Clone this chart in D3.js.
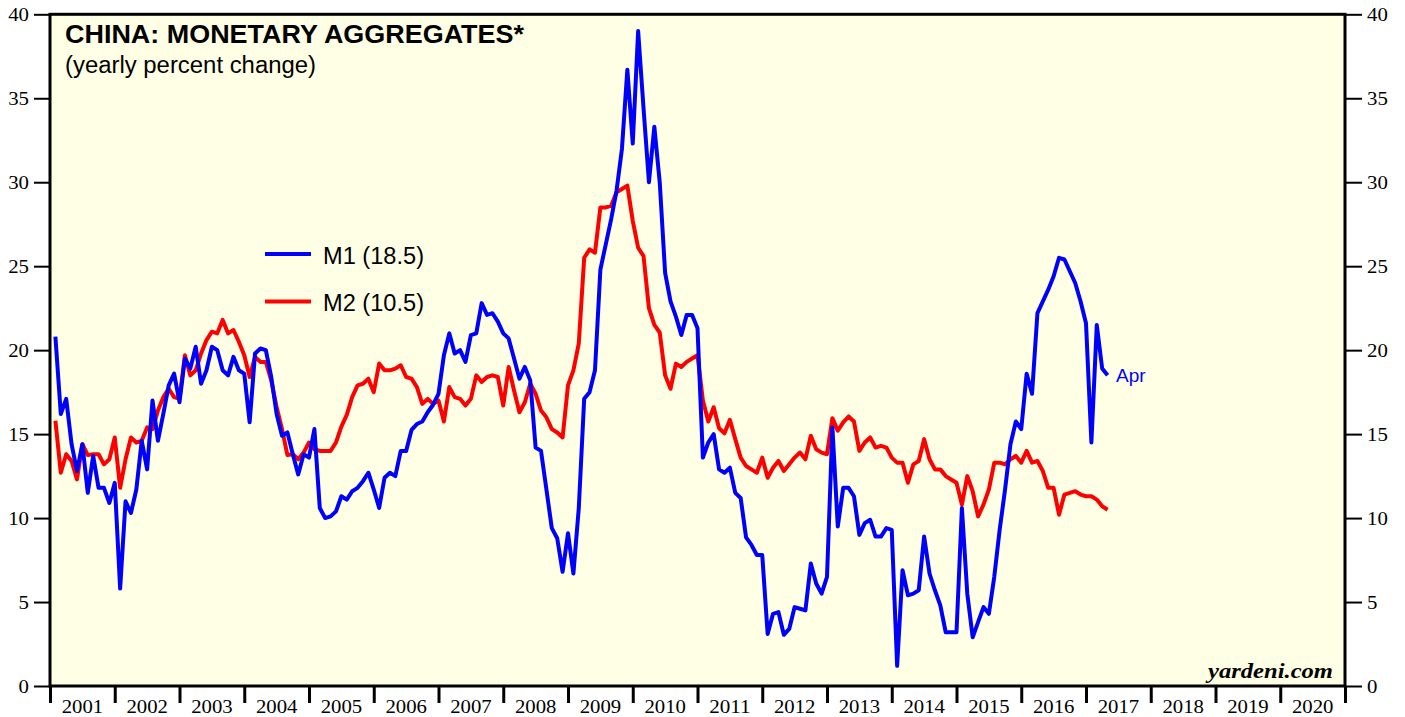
<!DOCTYPE html>
<html>
<head>
<meta charset="utf-8">
<script src="https://cdn.jsdelivr.net/npm/d3@7"></script>
<style>
  body { margin: 0; background: #fff; }
  svg { display: block; }
</style>
</head>
<body>
<div id="chart"></div>
<script>
// monthly yearly % change, Jan 2001 .. Apr 2017
const m1 = [
  20.8, 16.2, 17.1, 14.4, 12.8, 14.4, 11.5, 13.7, 11.8, 11.8, 10.9, 12.1,
  5.8, 11.0, 10.3, 11.7, 14.6, 12.9, 17.0, 14.6, 16.2, 17.9, 18.6, 16.9,
  19.5, 18.9, 20.2, 18.0, 18.8, 20.2, 20.0, 18.8, 18.5, 19.6, 18.8, 18.6,
  15.7, 19.8, 20.1, 20.0, 18.4, 16.2, 14.9, 15.1, 13.8, 12.6, 13.8, 13.6,
  15.3, 10.6, 10.0, 10.1, 10.4, 11.3, 11.1, 11.6, 11.8, 12.2, 12.7, 11.7,
  10.6, 12.4, 12.7, 12.5, 14.0, 14.0, 15.25, 15.6, 15.75, 16.3, 16.75, 17.4,
  19.7, 21.0, 19.8, 20.0, 19.3, 20.9, 21.0, 22.8, 22.1, 22.2, 21.7, 21.0,
  20.7, 19.5, 18.3, 19.0, 18.2, 14.2, 14.0, 11.7, 9.4, 8.8, 6.8, 9.1,
  6.7, 10.6, 17.1, 17.5, 18.8, 24.8, 26.3, 27.8, 29.5, 32.0, 36.7, 32.3,
  39.0, 34.4, 30.0, 33.3, 30.0, 24.6, 22.9, 22.0, 20.9, 22.1, 22.1, 21.3,
  13.6, 14.5, 15.0, 12.9, 12.7, 13.0, 11.5, 11.2, 8.85, 8.4, 7.8, 7.8,
  3.1, 4.3, 4.4, 3.05, 3.4, 4.7, 4.6, 4.5, 7.3, 6.1, 5.5, 6.5,
  15.4, 9.5, 11.8, 11.8, 11.3, 9.0, 9.7, 9.9, 8.9, 8.9, 9.4, 9.3,
  1.2, 6.9, 5.4, 5.5, 5.7, 8.9, 6.7, 5.7, 4.8, 3.2, 3.2, 3.2,
  10.6, 5.5, 2.9, 3.8, 4.7, 4.3, 6.5, 9.3, 11.7, 14.4, 15.75, 15.3,
  18.6, 17.4, 22.2, 22.9, 23.6, 24.4, 25.5, 25.4, 24.7, 24.0, 22.9, 21.6,
  14.5, 21.5, 18.9, 18.5
];
const m2 = [
  15.8, 12.7, 13.8, 13.4, 12.3, 14.4, 13.75, 13.8, 13.8, 13.2, 13.5, 14.8,
  11.8, 13.5, 14.8, 14.5, 14.6, 15.4, 15.3, 16.4, 17.2, 17.7, 17.2, 17.1,
  19.7, 18.5, 18.8, 19.8, 20.6, 21.1, 21.0, 21.8, 21.0, 21.2, 20.5, 19.7,
  18.4, 19.6, 19.3, 19.3, 18.2, 16.6, 15.3, 13.75, 13.8, 13.5, 13.9, 14.5,
  14.1, 14.0, 14.0, 14.0, 14.5, 15.45, 16.15, 17.2, 17.9, 18.0, 18.3, 17.5,
  19.2, 18.8, 18.8, 18.9, 19.1, 18.4, 18.3, 17.8, 16.8, 17.1, 16.8, 17.0,
  15.75, 17.8, 17.2, 17.1, 16.7, 17.1, 18.5, 18.1, 18.4, 18.5, 18.4, 16.7,
  19.0, 17.6, 16.3, 16.9, 18.0, 17.4, 16.4, 16.0, 15.3, 15.1, 14.8, 17.9,
  18.8, 20.4, 25.5, 26.0, 25.8, 28.5, 28.5, 28.6, 29.4, 29.6, 29.8, 27.7,
  26.1, 25.6, 22.5, 21.5, 21.05, 18.5, 17.7, 19.2, 19.0, 19.3, 19.5, 19.7,
  17.0, 15.75, 16.6, 15.35, 15.05, 15.85, 14.7, 13.6, 13.1, 12.9, 12.7, 13.6,
  12.4, 13.0, 13.4, 12.8, 13.2, 13.6, 13.9, 13.5, 14.9, 14.1, 13.9, 13.8,
  15.95, 15.2, 15.7, 16.05, 15.75, 14.0, 14.5, 14.8, 14.2, 14.3, 14.2, 13.6,
  13.3, 13.3, 12.1, 13.2, 13.4, 14.7, 13.5, 12.9, 12.9, 12.5, 12.3, 12.1,
  10.8, 12.5, 11.6, 10.1, 10.8, 11.7, 13.3, 13.3, 13.2, 13.5, 13.7, 13.3,
  14.0, 13.3, 13.4, 12.8, 11.8, 11.8, 10.2, 11.4, 11.5, 11.6, 11.4, 11.3,
  11.3, 11.1, 10.7, 10.5
];
const startYear = 2001;
const years = d3.range(2001, 2021);
const yTicks = [0, 5, 10, 15, 20, 25, 30, 35, 40];
const seriesNames = ["M1", "M2"];
const lastMonth = "Apr";

const width = 1405;
const height = 717;
const margin = {top: 14.3, right: 60, bottom: 31, left: 50};

const svg = d3.select("#chart")
    .append("svg")
    .attr("width", width)
    .attr("height", height);

const xScale = d3.scaleLinear()
    .domain([2001, 2021])
    .range([margin.left, width - margin.right]);

const yScale = d3.scaleLinear()
    .domain([0, 40])
    .range([height - margin.bottom, margin.top]);

// plot background
svg.append("rect")
    .attr("x", xScale(2001))
    .attr("y", yScale(40))
    .attr("width", xScale(2021) - xScale(2001))
    .attr("height", yScale(0) - yScale(40))
    .attr("fill", "#ffffe5");

const line = d3.line()
    .x((d, i) => xScale(startYear + (i + 1) / 12))
    .y(d => yScale(d));

svg.append("path")
    .datum(m2)
    .attr("d", line)
    .attr("fill", "none")
    .attr("stroke", "#ff0000")
    .attr("stroke-width", 4)
    .attr("stroke-linejoin", "round");

svg.append("path")
    .datum(m1)
    .attr("d", line)
    .attr("fill", "none")
    .attr("stroke", "#0000ff")
    .attr("stroke-width", 4)
    .attr("stroke-linejoin", "round");

// frame
svg.append("rect")
    .attr("x", xScale(2001))
    .attr("y", yScale(40))
    .attr("width", xScale(2021) - xScale(2001))
    .attr("height", yScale(0) - yScale(40))
    .attr("fill", "none")
    .attr("stroke", "#000")
    .attr("stroke-width", 3);

const serif = "'Liberation Serif', 'Times New Roman', serif";
const sans = "'Liberation Sans', Arial, Helvetica, sans-serif";

const styleAxis = g => {
    g.select(".domain").remove();
    g.selectAll(".tick line").attr("stroke", "#000").attr("stroke-width", 2);
    g.selectAll(".tick text")
        .attr("fill", "#000")
        .style("font-family", serif)
        .style("font-size", "19px")
        .attr("textLength", d => String(d).length * 10.4)
        .attr("lengthAdjust", "spacingAndGlyphs");
};

svg.append("g")
    .attr("transform", `translate(${xScale(2001)},0)`)
    .call(d3.axisLeft(yScale).tickValues(yTicks).tickSize(16).tickPadding(5))
    .call(styleAxis);

svg.append("g")
    .attr("transform", `translate(${xScale(2021)},0)`)
    .call(d3.axisRight(yScale).tickValues(yTicks).tickSize(17).tickPadding(5))
    .call(styleAxis);

svg.append("g")
    .attr("transform", `translate(0,${yScale(0)})`)
    .call(d3.axisBottom(xScale).tickValues(d3.range(2001, 2022)).tickSize(17).tickFormat(""))
    .call(g => {
        g.select(".domain").remove();
        g.selectAll(".tick line").attr("stroke", "#000").attr("stroke-width", 3);
    });

svg.append("g")
    .selectAll("text")
    .data(years)
    .join("text")
    .attr("x", d => xScale(d + 0.5))
    .attr("y", yScale(0) + 27)
    .attr("text-anchor", "middle")
    .style("font-family", serif)
    .style("font-size", "19px")
    .attr("textLength", 41.5)
    .attr("lengthAdjust", "spacingAndGlyphs")
    .text(d => d);

// titles
svg.append("text")
    .attr("x", 65)
    .attr("y", 42.7)
    .style("font-family", sans)
    .style("font-weight", "bold")
    .style("font-size", "25px")
    .attr("textLength", 459)
    .attr("lengthAdjust", "spacingAndGlyphs")
    .text("CHINA: MONETARY AGGREGATES*");

svg.append("text")
    .attr("x", 65)
    .attr("y", 72.5)
    .style("font-family", sans)
    .style("font-size", "23px")
    .attr("textLength", 251)
    .attr("lengthAdjust", "spacingAndGlyphs")
    .text("(yearly percent change)");

// legend
const legend = svg.append("g").attr("transform", "translate(265,254)");
const legendItems = [
    {name: seriesNames[0], data: m1, color: "#0000ff"},
    {name: seriesNames[1], data: m2, color: "#ff0000"}
];
legendItems.forEach((item, i) => {
    const row = legend.append("g").attr("transform", `translate(0,${i * 47.5})`);
    row.append("line")
        .attr("x1", 0).attr("x2", 46)
        .attr("stroke", item.color)
        .attr("stroke-width", 4);
    row.append("text")
        .attr("x", 58)
        .attr("y", 9.5)
        .style("font-family", sans)
        .style("font-size", "23.5px")
        .attr("textLength", 101)
        .attr("lengthAdjust", "spacingAndGlyphs")
        .text(`${item.name} (${d3.format(".1f")(item.data[item.data.length - 1])})`);
});

// last-month label
svg.append("text")
    .attr("x", xScale(startYear + m1.length / 12) + 8.5)
    .attr("y", yScale(m1[m1.length - 1]) + 6.5)
    .attr("fill", "#0000ff")
    .style("font-family", sans)
    .style("font-size", "19px")
    .text(lastMonth);

svg.append("text")
    .attr("x", 1333)
    .attr("y", 677.5)
    .attr("text-anchor", "end")
    .style("font-family", serif)
    .style("font-weight", "bold")
    .style("font-style", "italic")
    .style("font-size", "20px")
    .attr("textLength", 125)
    .attr("lengthAdjust", "spacingAndGlyphs")
    .text("yardeni.com");
</script>
</body>
</html>
